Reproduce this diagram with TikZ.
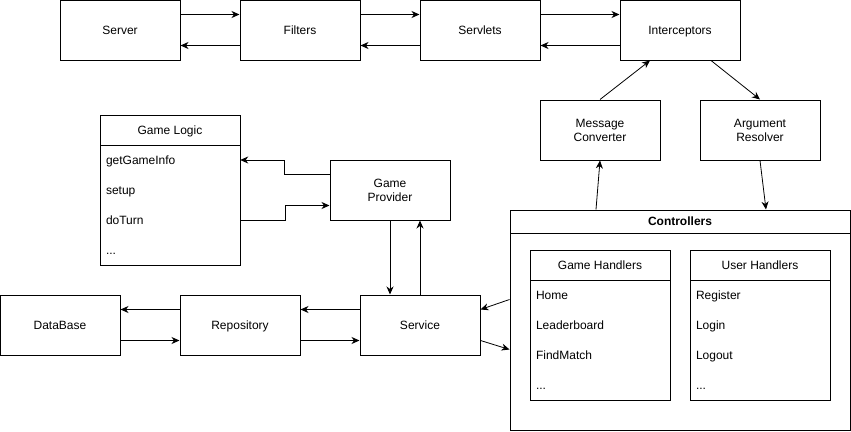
\documentclass[tikz,border=0pt]{standalone}
\usepackage{fontspec}
\setmainfont{Liberation Sans}
\usetikzlibrary{arrows.meta}
\begin{document}
\begin{tikzpicture}[x=1pt,y=-1pt,
  every node/.style={font=\fontsize{12}{14}\selectfont},
  box/.style={draw, line width=1pt, minimum width=120pt, minimum height=60pt, inner sep=0pt, align=center},
  one/.style={text height=10pt, text depth=2pt},
  frame/.style={draw, line width=1pt, inner sep=0pt},
  item/.style={one, minimum width=140pt, minimum height=30pt, inner sep=0pt, text width=128pt, align=left},
  title/.style={one, inner sep=0pt},
  arr/.style={line width=1pt, -{Stealth[length=8pt,width=7pt,inset=2.5pt]}},
  thinarr/.style={line width=0.8pt, -{Stealth[length=8pt,width=7pt,inset=2.5pt]}}
]
\useasboundingbox (0,0) rectangle (851,431);

% top row
\node[box,one] (sr) at (120,30) {Server};
\node[box,one] (fi) at (300,30) {Filters};
\node[box,one] (sl) at (480,30) {Servlets};
\node[box,one] (ic) at (680,30) {Interceptors};
\node[box] (mc) at (600,130) {Message\\Converter};
\node[box] (ar) at (760,130) {Argument\\Resolver};

% game logic
\node[frame, minimum width=140pt, minimum height=150pt] (gl) at (170,190) {};
\draw[line width=1pt] (100,145) -- (240,145);
\node[title] (glt) at (170,130) {Game Logic};
\node[item] (gi) at (170,160) {getGameInfo};
\node[item] (su) at (170,190) {setup};
\node[item] (dt) at (170,220) {doTurn};
\node[item] (gd) at (170,250) {...};

\node[box] (gp) at (390,190) {Game\\Provider};

% bottom row
\node[box,one] (db) at (60,325) {DataBase};
\node[box,one] (rp) at (240,325) {Repository};
\node[box,one] (sv) at (420,325) {Service};

% controllers
\node[frame, minimum width=340pt, minimum height=220pt] (ct) at (680,320) {};
\draw[line width=1pt] (510,233) -- (850,233);
\node[title] (ctt) at (680,221) {\bfseries Controllers};

\node[frame, minimum width=140pt, minimum height=150pt] (gh) at (600,325) {};
\draw[line width=1pt] (530,280) -- (670,280);
\node[title] (ght) at (600,265) {Game Handlers};
\node[item] (h1) at (600,295) {Home};
\node[item] (h2) at (600,325) {Leaderboard};
\node[item] (h3) at (600,355) {FindMatch};
\node[item] (h4) at (600,385) {...};

\node[frame, minimum width=140pt, minimum height=150pt] (uh) at (760,325) {};
\draw[line width=1pt] (690,280) -- (830,280);
\node[title] (uht) at (760,265) {User Handlers};
\node[item] (u1) at (760,295) {Register};
\node[item] (u2) at (760,325) {Login};
\node[item] (u3) at (760,355) {Logout};
\node[item] (u4) at (760,385) {...};

% top arrows
\draw[arr] ([yshift=-15pt]sr.north east) -- ([yshift=-15pt]fi.north west);
\draw[arr] ([yshift=15pt]fi.south west) -- ([yshift=15pt]sr.south east);
\draw[arr] ([yshift=-15pt]fi.north east) -- ([yshift=-15pt]sl.north west);
\draw[arr] ([yshift=15pt]sl.south west) -- ([yshift=15pt]fi.south east);
\draw[arr] ([yshift=-15pt]sl.north east) -- ([yshift=-15pt]ic.north west);
\draw[arr] ([yshift=15pt]ic.south west) -- ([yshift=15pt]sl.south east);

% diagonal arrows
\draw[thinarr] (mc.north) -- ([xshift=-30pt]ic.south);
\draw[thinarr] ([xshift=31pt]ic.south) -- (ar.north);
\draw[thinarr] ([xshift=-84pt]ct.north) -- (mc.south);
\draw[thinarr] (ar.south) -- ([xshift=86pt]ct.north);

% game provider <-> game logic
\draw[arr] ([yshift=-15pt]gp.north west) -- ++(-45,0) |- (gi.east);
\draw[arr] (dt.east) -- ++(45,0) |- ([yshift=15pt]gp.south west);

% game provider <-> service
\draw[arr] (gp.south) -- (gp.south |- sv.north);
\draw[arr] (sv.north) -- (sv.north |- gp.south);

% bottom row arrows
\draw[arr] ([yshift=-15pt]rp.north west) -- ([yshift=-15pt]db.north east);
\draw[arr] ([yshift=15pt]db.south east) -- ([yshift=15pt]rp.south west);
\draw[arr] ([yshift=-15pt]sv.north west) -- ([yshift=-15pt]rp.north east);
\draw[arr] ([yshift=15pt]rp.south east) -- ([yshift=15pt]sv.south west);

% service <-> controllers
\draw[thinarr] ([yshift=-90pt]ct.north west) -- ([yshift=-15pt]sv.north east);
\draw[thinarr] ([yshift=15pt]sv.south east) -- ([yshift=-140pt]ct.north west);
\end{tikzpicture}
\end{document}
